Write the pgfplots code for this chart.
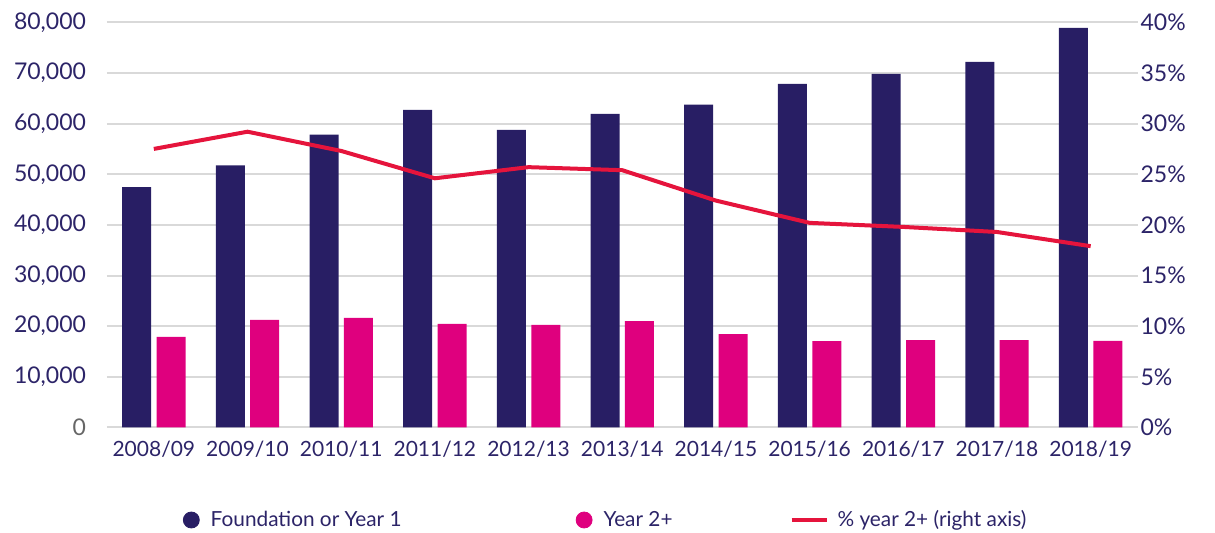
\documentclass[border=0pt]{standalone}
\usepackage{fontspec}
\setmainfont{Lato}
\usepackage{pgfplots}
\usepackage{pgfplotstable}
\pgfplotsset{compat=1.18}
\definecolor{navy}{HTML}{281E64}
\definecolor{pinkbar}{HTML}{DF007E}
\definecolor{redline}{HTML}{E5143C}
\definecolor{txt}{HTML}{2C2468}
\definecolor{gridc}{HTML}{D9D9D9}

% students by year of entry
\pgfplotstableread{
x found yr2 pct
0 47470 17890 27.5
1 51740 21250 29.2
2 57800 21640 27.3
3 62700 20450 24.6
4 58740 20260 25.7
5 61900 20990 25.4
6 63730 18420 22.4
7 67830 17030 20.2
8 69800 17230 19.8
9 72170 17230 19.3
10 78890 17100 17.9
}\data

\begin{document}
\begin{tikzpicture}
\useasboundingbox (-53.5pt,-52.75pt) rectangle (554pt,213.75pt);
\begin{axis}[
  scale only axis, width=515.25pt, height=202.6pt,
  xmin=-0.5, xmax=10.5, ymin=0, ymax=80000,
  ybar=2.7pt, bar width=14.5pt,
  xtick={0,...,10},
  xticklabels={2008/09,2009/10,2010/11,2011/12,2012/13,2013/14,2014/15,2015/16,2016/17,2017/18,2018/19},
  axis x line*=bottom, axis y line*=left,
  y axis line style={draw=none},
  x axis line style={draw=black!65, line width=1pt, shorten <=4pt, shorten >=4pt},
  major tick length=0pt,
  ytick={10000,20000,...,80000},
  extra y ticks={0},
  extra y tick style={yticklabel style={text=black!60}},
  ymajorgrids, grid style={gridc, line width=1pt},
  scaled y ticks=false,
  /pgf/number format/assume math mode=true,
  /pgf/number format/1000 sep={,},
  yticklabel style={font=\fontsize{11.5}{13}\selectfont, text=txt, xshift=-7pt},
  xticklabel style={font=\fontsize{10.5}{12}\selectfont, text=txt, yshift=-3pt},
]
\addplot[fill=navy, draw=none] table[x=x,y=found]{\data};
\addplot[fill=pinkbar, draw=none] table[x=x,y=yr2]{\data};
\end{axis}
\begin{axis}[
  scale only axis, width=515.25pt, height=202.6pt,
  xmin=-0.5, xmax=10.5, ymin=0, ymax=40,
  axis y line*=right, axis x line=none,
  y axis line style={draw=none},
  major tick length=0pt,
  ytick={0,5,...,40},
  /pgf/number format/assume math mode=true,
  yticklabel={\pgfmathprintnumber{\tick}\%},
  yticklabel style={anchor=west, font=\fontsize{11.5}{13}\selectfont, text=txt, xshift=-2pt},
  legend columns=3,
  legend style={at={(axis description cs:0.0733,-0.2283)}, anchor=west, draw=none,
    inner sep=0pt, font=\fontsize{10.4}{12}\selectfont, text=txt,
    cells={anchor=west}},
]
\addlegendimage{legend image code/.code={\fill[navy] (4pt,0pt) circle (4pt);}}
\addlegendentry{\hspace*{3.5pt}\makebox[180.5pt][l]{Foundation or Year 1}}
\addlegendimage{legend image code/.code={\fill[pinkbar] (4pt,0pt) circle (4pt);}}
\addlegendentry{\hspace*{3.5pt}\makebox[91pt][l]{Year 2+}}
\addplot[redline, line width=2pt,
  legend image code/.code={\draw[redline, line width=2pt] (0pt,0pt) -- (17.5pt,0pt);}]
  table[x=x,y=pct]{\data};
\addlegendentry{\hspace*{2.5pt}\% year 2+ (right axis)}
\end{axis}
\end{tikzpicture}
\end{document}
